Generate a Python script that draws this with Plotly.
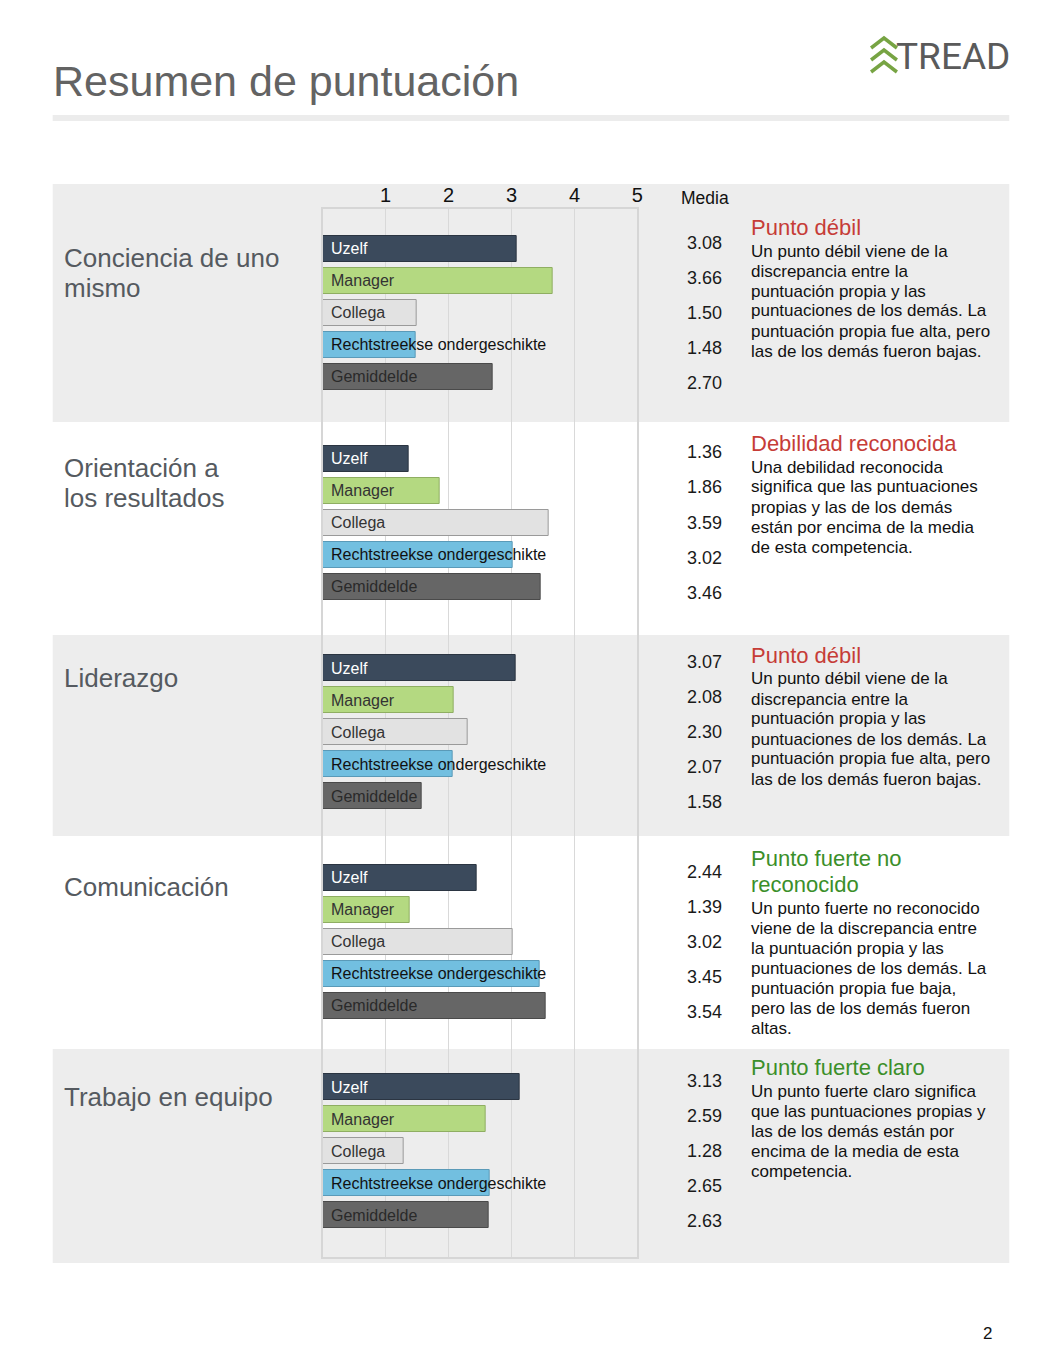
import plotly.graph_objects as go

# ---------------- data ----------------
competencies = [["Conciencia de uno", "mismo"], ["Orientación a", "los resultados"],
                ["Liderazgo"], ["Comunicación"], ["Trabajo en equipo"]]
raters = ["Uzelf", "Manager", "Collega", "Rechtstreekse ondergeschikte", "Gemiddelde"]
uzelf = [3.08, 1.36, 3.07, 2.44, 3.13]
manager = [3.66, 1.86, 2.08, 1.39, 2.59]
collega = [1.50, 3.59, 2.30, 3.02, 1.28]
rechtstreekse = [1.48, 3.02, 2.07, 3.45, 2.65]
gemiddelde = [2.70, 3.46, 1.58, 3.54, 2.63]
tick_values = [1, 2, 3, 4, 5]
tick_labels = ["1", "2", "3", "4", "5"]

desc_titles = [["Punto débil"], ["Debilidad reconocida"], ["Punto débil"],
               ["Punto fuerte no", "reconocido"], ["Punto fuerte claro"]]
desc_kinds = ["weak", "weak", "weak", "strong", "strong"]
desc_lines = [
    ["Un punto débil viene de la", "discrepancia entre la", "puntuación propia y las",
     "puntuaciones de los demás. La", "puntuación propia fue alta, pero",
     "las de los demás fueron bajas."],
    ["Una debilidad reconocida", "significa que las puntuaciones",
     "propias y las de los demás", "están por encima de la media", "de esta competencia."],
    ["Un punto débil viene de la", "discrepancia entre la", "puntuación propia y las",
     "puntuaciones de los demás. La", "puntuación propia fue alta, pero",
     "las de los demás fueron bajas."],
    ["Un punto fuerte no reconocido", "viene de la discrepancia entre",
     "la puntuación propia y las", "puntuaciones de los demás. La",
     "puntuación propia fue baja,", "pero las de los demás fueron", "altas."],
    ["Un punto fuerte claro significa", "que las puntuaciones propias y",
     "las de los demás están por", "encima de la media de esta", "competencia."],
]

# ---------------- styling / layout ----------------
W, H = 1064, 1366
FONT = "Liberation Sans, Arial, sans-serif"
series = [uzelf, manager, collega, rechtstreekse, gemiddelde]
bar_colors = ["#3b4a5c", "#b4d981", "#e2e2e2", "#72bfe0", "#666666"]
bar_lines = ["#2b3542", "#8fae62", "#9a9a9a", "#5a9ab8", "#4a4a4a"]
label_colors = ["#ffffff", "#333333", "#333333", "#111111", "#2a2a2a"]
title_colors = {"weak": "#c63c37", "strong": "#3b8f2a"}

SECTION_PITCH = 209.5   # px per competency block
BAR_PITCH = 32          # px per bar
VALUE_PITCH = 35        # px per media value
desc_title_px = [227, 443, 655, 858, 1067]
band_px = [(184, 422), (635, 836), (1049, 1263)]


def xp(px):
    return px / W


def yp(py):
    return 1 - py / H


fig = go.Figure()

for k, (name, vals) in enumerate(zip(raters, series)):
    ypos = [s * SECTION_PITCH + k * BAR_PITCH for s in range(len(vals))]
    fig.add_trace(go.Bar(
        x=vals, y=ypos, orientation="h", width=26, name=name,
        marker=dict(color=bar_colors[k], line=dict(color=bar_lines[k], width=1)),
        showlegend=False, hoverinfo="x+name",
    ))

annotations = []
# bar labels and media values
for k, (name, vals) in enumerate(zip(raters, series)):
    for s, v in enumerate(vals):
        annotations.append(dict(
            x=0, y=s * SECTION_PITCH + k * BAR_PITCH, xref="x", yref="y",
            text=name, showarrow=False, xanchor="left", yanchor="middle", xshift=6,
            font=dict(family=FONT, size=16, color=label_colors[k])))
        annotations.append(dict(
            x=xp(728), y=s * SECTION_PITCH + 2 * BAR_PITCH + (k - 2) * VALUE_PITCH,
            xref="paper", yref="y", text=f"{v:.2f}", showarrow=False,
            xanchor="right", yanchor="middle",
            font=dict(family=FONT, size=18, color="#1a1a1a")))

# competency names
for s, lines in enumerate(competencies):
    for j, line in enumerate(lines):
        annotations.append(dict(
            x=xp(62), y=s * SECTION_PITCH + 9.5 + j * 30, xref="paper", yref="y",
            text=line, showarrow=False, xanchor="left", yanchor="middle",
            font=dict(family=FONT, size=26, color="#555a60")))

# descriptions
for s in range(len(desc_titles)):
    y0 = desc_title_px[s]
    for j, t in enumerate(desc_titles[s]):
        annotations.append(dict(
            x=xp(753), y=yp(y0 + j * 26), xref="paper", yref="paper", text=t,
            showarrow=False, xanchor="left", yanchor="middle",
            font=dict(family=FONT, size=22, color=title_colors[desc_kinds[s]])))
    yb = y0 + (len(desc_titles[s]) - 1) * 26 + 24
    for j, t in enumerate(desc_lines[s]):
        annotations.append(dict(
            x=xp(753), y=yp(yb + j * 20), xref="paper", yref="paper", text=t,
            showarrow=False, xanchor="left", yanchor="middle",
            font=dict(family=FONT, size=17, color="#111111")))

# headers / page texts
annotations += [
    dict(x=xp(51), y=yp(81), xref="paper", yref="paper", text="Resumen de puntuación",
         showarrow=False, xanchor="left", yanchor="middle",
         font=dict(family=FONT, size=43, color="#636363")),
    dict(x=xp(709), y=yp(198), xref="paper", yref="paper", text="Media",
         showarrow=False, xanchor="center", yanchor="middle",
         font=dict(family=FONT, size=17.5, color="#111111")),
    dict(x=xp(1018), y=yp(57), xref="paper", yref="paper", text="TREAD",
         showarrow=False, xanchor="right", yanchor="middle",
         font=dict(family="Roboto, Liberation Sans, sans-serif", size=37,
                   color="#5a5a5a")),
    dict(x=xp(993), y=yp(1333), xref="paper", yref="paper", text="2",
         showarrow=False, xanchor="center", yanchor="middle",
         font=dict(family=FONT, size=17, color="#111111")),
]

shapes = []
for (a, b) in band_px:
    shapes.append(dict(type="rect", xref="paper", yref="paper", x0=xp(53), x1=xp(1015),
                       y0=yp(a), y1=yp(b), fillcolor="#ededed", line=dict(width=0),
                       layer="below"))
shapes.append(dict(type="rect", xref="paper", yref="paper", x0=xp(53), x1=xp(1015),
                   y0=yp(115), y1=yp(121), fillcolor="#ececec", line=dict(width=0),
                   layer="below"))
# logo chevrons
for i in range(3):
    top = 38 + i * 12
    path = (f"M {xp(876)},{yp(top + 10)} L {xp(889)},{yp(top)} L {xp(902)},{yp(top + 10)}")
    shapes.append(dict(type="path", xref="paper", yref="paper", path=path,
                       line=dict(color="#77a443", width=3.5)))

fig.update_layout(
    width=W, height=H, margin=dict(l=0, r=0, t=0, b=0),
    paper_bgcolor="white", plot_bgcolor="rgba(0,0,0,0)",
    barmode="overlay", bargap=0,
    annotations=annotations, shapes=shapes,
    font=dict(family=FONT),
    xaxis=dict(domain=[xp(324.5), xp(641)], range=[0, 5], side="top",
               tickmode="array", tickvals=tick_values, ticktext=tick_labels,
               ticks="", ticklabelstandoff=-3,
               tickfont=dict(family=FONT, size=20, color="#111111"),
               showgrid=True, gridcolor="#d9d9d9", gridwidth=1,
               showline=True, mirror=True, linecolor="#d6d6d6", linewidth=2,
               zeroline=False, fixedrange=True),
    yaxis=dict(domain=[yp(1257), yp(209)], range=[1008, -40],
               showticklabels=False, showgrid=False, zeroline=False,
               showline=True, mirror=True, linecolor="#d6d6d6", linewidth=2,
               fixedrange=True),
)

fig.write_html("out.html", config={"displayModeBar": False},
               post_script="document.body.style.margin='0';document.body.style.overflow='hidden';")
